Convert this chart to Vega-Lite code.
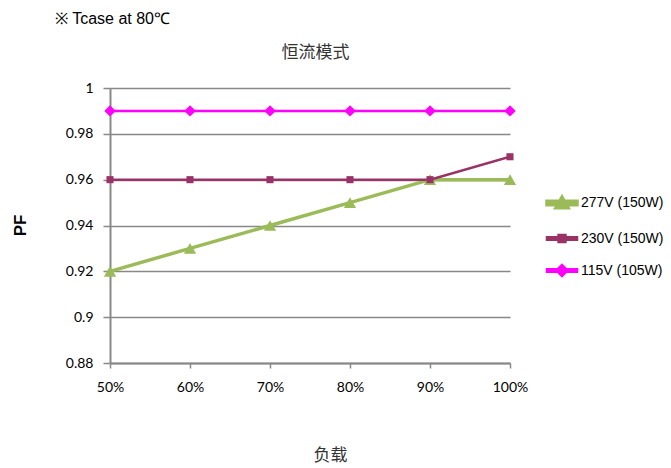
{
  "$schema": "https://vega.github.io/schema/vega-lite/v6.json",
  "width": 400,
  "height": 275,
  "autosize": {"type": "none"},
  "padding": {"left": 110, "top": 88, "right": 161, "bottom": 105},
  "background": "white",
  "title": {
    "text": "※ Tcase at 80℃",
    "anchor": "start",
    "frame": "group",
    "dx": -55,
    "offset": 16,
    "font": "Liberation Sans",
    "fontSize": 16,
    "fontWeight": "normal",
    "color": "#000000"
  },
  "data": {
    "values": [
      {"series": "277V (150W)", "load": 50, "pf": 0.92},
      {"series": "277V (150W)", "load": 60, "pf": 0.93},
      {"series": "277V (150W)", "load": 70, "pf": 0.94},
      {"series": "277V (150W)", "load": 80, "pf": 0.95},
      {"series": "277V (150W)", "load": 90, "pf": 0.96},
      {"series": "277V (150W)", "load": 100, "pf": 0.96},
      {"series": "230V (150W)", "load": 50, "pf": 0.96},
      {"series": "230V (150W)", "load": 60, "pf": 0.96},
      {"series": "230V (150W)", "load": 70, "pf": 0.96},
      {"series": "230V (150W)", "load": 80, "pf": 0.96},
      {"series": "230V (150W)", "load": 90, "pf": 0.96},
      {"series": "230V (150W)", "load": 100, "pf": 0.97},
      {"series": "115V (105W)", "load": 50, "pf": 0.99},
      {"series": "115V (105W)", "load": 60, "pf": 0.99},
      {"series": "115V (105W)", "load": 70, "pf": 0.99},
      {"series": "115V (105W)", "load": 80, "pf": 0.99},
      {"series": "115V (105W)", "load": 90, "pf": 0.99},
      {"series": "115V (105W)", "load": 100, "pf": 0.99}
    ]
  },
  "encoding": {
    "y": {
      "field": "pf",
      "type": "quantitative",
      "scale": {"domain": [0.88, 1], "zero": false, "nice": false},
      "axis": {
        "values": [0.88, 0.9, 0.92, 0.94, 0.96, 0.98, 1],
        "format": "~g",
        "title": "PF",
        "titleFont": "Liberation Sans",
        "titleFontSize": 17,
        "titleFontWeight": "bold",
        "titleColor": "#000000",
        "titleAngle": -90,
        "titleX": -90,
        "titleY": 137,
        "titleAlign": "center",
        "titleBaseline": "middle",
        "grid": true,
        "gridColor": "#888888",
        "gridWidth": 1.5,
        "domainColor": "#888888",
        "domainWidth": 2,
        "tickColor": "#888888",
        "tickSize": 7,
        "tickWidth": 1.5,
        "labelFont": "Lato",
        "labelFontSize": 14,
        "labelColor": "#000000",
        "labelPadding": 10
      }
    },
    "color": {
      "field": "series",
      "type": "nominal",
      "scale": {
        "domain": ["277V (150W)", "230V (150W)", "115V (105W)"],
        "range": ["#9BBB59", "#993366", "#FF00FF"]
      },
      "legend": {
        "title": null,
        "orient": "none",
        "legendX": 435,
        "legendY": 98,
        "symbolSize": 900,
        "symbolStrokeWidth": 0,
        "rowPadding": 7,
        "labelFont": "Liberation Sans",
        "labelFontSize": 14,
        "labelColor": "#000000",
        "labelOffset": 2,
        "encode": {
          "symbols": {
            "update": {
              "shape": {"signal": "indexof(datum.value, '277V') === 0 ? 'M-1,-0.12H1V0.12H-1Z M-0.4,0.32L0,-0.38L0.4,0.32Z' : indexof(datum.value, '230V') === 0 ? 'M-1,-0.08H1V0.08H-1Z M-0.23,-0.23H0.23V0.23H-0.23Z' : 'M-1,-0.08H1V0.08H-1Z M0,-0.36L0.36,0L0,0.36L-0.36,0Z'"},
              "size": {"value": 900},
              "fill": {"scale": "color", "field": "value"},
              "stroke": {"value": "transparent"},
              "strokeWidth": {"value": 0},
              "opacity": {"value": 1}
            }
          }
        }
      }
    }
  },
  "layer": [
    {
      "mark": {"type": "line"},
      "encoding": {
        "x": {
          "field": "load",
          "type": "quantitative",
          "scale": {"domain": [50, 100], "nice": false, "zero": false},
          "axis": {
            "values": [50, 60, 70, 80, 90, 100],
            "labelExpr": "datum.value + '%'",
            "labelFlush": false,
            "grid": false,
            "domainColor": "#888888",
            "domainWidth": 2,
            "tickColor": "#888888",
            "tickSize": 5,
            "tickWidth": 1.5,
            "labelFont": "Lato",
            "labelFontSize": 14,
            "labelColor": "#000000",
            "labelPadding": 12,
            "title": "负载",
            "titleFont": "Noto Sans CJK SC",
            "titleFontSize": 17,
            "titleFontWeight": "normal",
            "titleColor": "#333333",
            "titleX": 220,
            "titleY": 92,
            "titleAlign": "center",
            "titleBaseline": "middle"
          }
        },
        "strokeWidth": {
          "field": "series",
          "type": "nominal",
          "scale": {
            "type": "ordinal",
            "domain": ["277V (150W)", "230V (150W)", "115V (105W)"],
            "range": [3.5, 2.5, 2.5]
          },
          "legend": null
        }
      }
    },
    {
      "transform": [{"filter": "datum.series === '277V (150W)'"}],
      "mark": {"type": "point", "filled": true, "opacity": 1, "shape": "triangle-up", "size": 150},
      "encoding": {
        "x": {
          "field": "load",
          "type": "quantitative",
          "axis": {
            "orient": "top",
            "labels": false,
            "ticks": false,
            "domain": false,
            "grid": false,
            "title": "恒流模式",
            "titleFont": "Noto Sans CJK SC",
            "titleFontSize": 17,
            "titleFontWeight": "normal",
            "titleColor": "#333333",
            "titleX": 205,
            "titleY": -36,
            "titleAlign": "center",
            "titleBaseline": "middle"
          }
        }
      }
    },
    {
      "transform": [{"filter": "datum.series === '230V (150W)'"}],
      "mark": {"type": "point", "filled": true, "opacity": 1, "shape": "square", "size": 50},
      "encoding": {
        "x": {"field": "load", "type": "quantitative", "axis": null}
      }
    },
    {
      "transform": [{"filter": "datum.series === '115V (105W)'"}],
      "mark": {"type": "point", "filled": true, "opacity": 1, "shape": "diamond", "size": 130},
      "encoding": {
        "x": {"field": "load", "type": "quantitative", "axis": null}
      }
    }
  ],
  "resolve": {"axis": {"x": "independent"}},
  "config": {"view": {"stroke": null}}
}
